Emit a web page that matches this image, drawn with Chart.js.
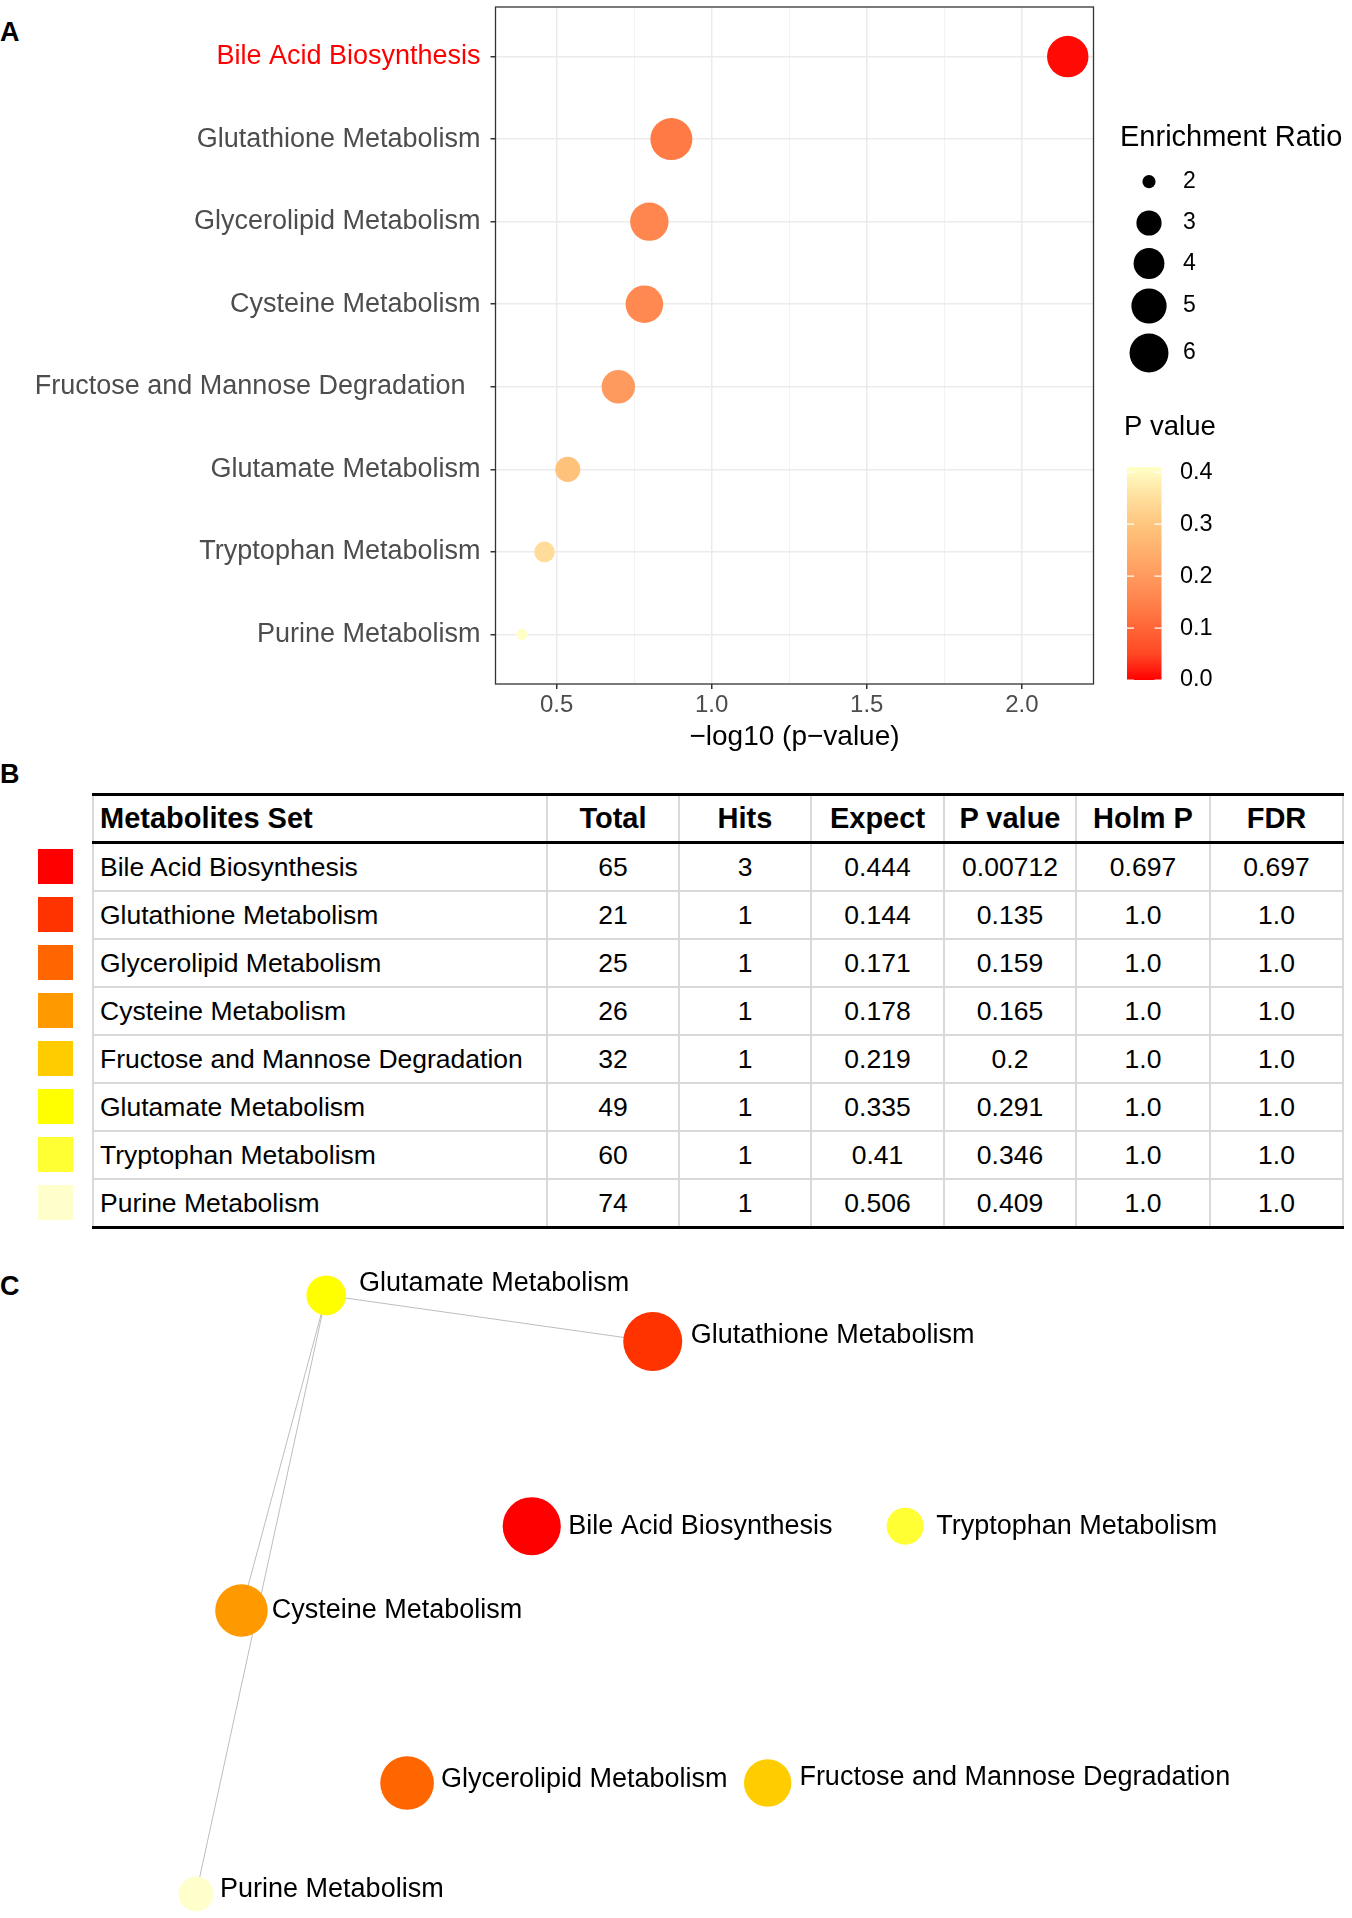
<!DOCTYPE html>
<html>
<head>
<meta charset="utf-8">
<title>Metabolite set enrichment</title>
<script src="https://cdn.jsdelivr.net/npm/chart.js@4.4.1/dist/chart.umd.min.js"></script>
<style>
  body { margin: 0; background: #fff; font-family: "Liberation Sans", Arial, sans-serif; }
  #page { position: relative; width: 1352px; height: 1918px; overflow: hidden; background: #fff; }
  .panel-tag { position: absolute; left: 0; font-weight: bold; font-size: 27px; line-height: 27px; color: #000; }
  #dotplot { position: absolute; left: 0; top: 0; }
  #network { position: absolute; left: 0; top: 1250px; }
  .swatch { position: absolute; left: 38px; width: 35px; height: 35px; }
  #tblB { position: absolute; left: 92px; top: 793px; width: 1250px; border-collapse: collapse; table-layout: fixed; color: #000; }
  #tblB th, #tblB td { height: 46px; padding: 0 6px; text-align: center; border: 2px solid #D9D9D9; font-size: 26.5px; white-space: nowrap; overflow: hidden; }
  #tblB th { font-weight: bold; font-size: 29px; height: 45px; border-top: 3px solid #000; border-bottom: 3px solid #000; }
  #tblB tr:last-child td { border-bottom: 3px solid #000; }
  #tblB th:first-child, #tblB td:first-child { text-align: left; }
</style>
</head>
<body>
<div id="page">
  <div class="panel-tag" style="top:19px">A</div>
  <div class="panel-tag" style="top:761px">B</div>
  <div class="panel-tag" style="top:1273px">C</div>
  <canvas id="dotplot" width="1352" height="760"></canvas>
  <div id="swatches"></div>
  <table id="tblB"><thead></thead><tbody></tbody></table>
  <canvas id="network" width="1352" height="668"></canvas>
</div>
<script>
// ---------- data ----------
const pathways = ['Bile Acid Biosynthesis', 'Glutathione Metabolism', 'Glycerolipid Metabolism',
  'Cysteine Metabolism', 'Fructose and Mannose Degradation', 'Glutamate Metabolism',
  'Tryptophan Metabolism', 'Purine Metabolism'];
const totals = [65, 21, 25, 26, 32, 49, 60, 74];
const hits = [3, 1, 1, 1, 1, 1, 1, 1];
const expected = ['0.444', '0.144', '0.171', '0.178', '0.219', '0.335', '0.41', '0.506'];
const pValues = ['0.00712', '0.135', '0.159', '0.165', '0.2', '0.291', '0.346', '0.409'];
const holmP = ['0.697', '1.0', '1.0', '1.0', '1.0', '1.0', '1.0', '1.0'];
const fdr = ['0.697', '1.0', '1.0', '1.0', '1.0', '1.0', '1.0', '1.0'];

// panel A: -log10(p) on x, enrichment ratio as size
const negLogP = [2.148, 0.870, 0.799, 0.783, 0.699, 0.536, 0.461, 0.388];
const enrichment = [6.76, 6.94, 5.85, 5.62, 4.57, 2.99, 2.44, 1.98];
const xMajorTicks = [0.5, 1.0, 1.5, 2.0];
const xMinorTicks = [0.75, 1.25, 1.75];
const sizeBreaks = [2, 3, 4, 5, 6];
const pBreaks = [0.0, 0.1, 0.2, 0.3, 0.4];

// panel C: network layout (layout units 0-100) and edges between pathways
const netX = [39.33, 48.28, 30.11, 17.86, 56.78, 24.13, 66.95, 14.50];
const netY = [41.35, 13.71, 79.79, 53.97, 79.79, 6.78, 41.35, 96.41];
const edges = [[5, 1], [5, 3], [5, 7]];

// ---------- styles ----------
const FONT = '"Liberation Sans", Arial, sans-serif';
Chart.defaults.font.family = FONT;
const pathwayPalette = ['#FF0000', '#FF3300', '#FF6600', '#FF9900', '#FFCC00', '#FFFF00', '#FFFF33', '#FFFFCC'];
const pStops = [[0, [255, 0, 0]], [0.05, [255, 72, 36]], [0.135, [255, 122, 69]], [0.2, [255, 154, 94]],
  [0.291, [255, 194, 122]], [0.346, [255, 220, 154]], [0.409, [255, 255, 198]]];
const pNum = pValues.map(Number);

function pColor(p) {
  for (let i = 1; i < pStops.length; i++) {
    if (p <= pStops[i][0] || i === pStops.length - 1) {
      const [p0, c0] = pStops[i - 1], [p1, c1] = pStops[i];
      const t = Math.max(0, Math.min(1, (p - p0) / (p1 - p0)));
      const c = c0.map((v, k) => Math.round(v + (c1[k] - v) * t));
      return 'rgb(' + c.join(',') + ')';
    }
  }
}
// ggplot-like area scale for the dots
const erMin = Math.min(...enrichment), erMax = Math.max(...enrichment);
function dotRadius(er) {
  const t = Math.max(0, (er - erMin) / (erMax - erMin));
  return 5.6 + 15.4 * Math.sqrt(t);
}
// node size in the network
function nodeRadius(er) { return 12.57 + 2.44 * er; }

// ---------- panel A ----------
const panelFrame = {
  id: 'panelFrame',
  afterDraw(chart) {
    const { ctx, chartArea: a } = chart;
    ctx.save();
    ctx.strokeStyle = '#333333';
    ctx.lineWidth = 1.3;
    ctx.strokeRect(a.left, a.top, a.right - a.left, a.bottom - a.top);
    ctx.restore();
  }
};

const dotLegends = {
  id: 'dotLegends',
  afterDraw(chart) {
    const ctx = chart.ctx;
    ctx.save();
    ctx.fillStyle = '#000';
    ctx.textBaseline = 'middle';
    ctx.textAlign = 'left';
    ctx.font = '29px ' + FONT;
    ctx.fillText('Enrichment Ratio', 1120, 138);
    const keyY = [181.7, 223, 263.5, 306, 353];
    ctx.font = '23px ' + FONT;
    sizeBreaks.forEach((v, i) => {
      ctx.beginPath();
      ctx.arc(1149, keyY[i], dotRadius(v), 0, Math.PI * 2);
      ctx.fill();
      ctx.fillText(String(v), 1183, keyY[i]);
    });

    // colour bar
    ctx.font = '27.5px ' + FONT;
    ctx.fillText('P value', 1124, 427);
    const barL = 1127, barW = 34.5, y0 = 680, pxPerUnit = 519.5;
    const pTop = Math.max(...pNum);
    const yTop = y0 - pTop * pxPerUnit;
    for (let y = Math.floor(yTop); y < y0; y++) {
      ctx.fillStyle = pColor((y0 - y - 0.5) / pxPerUnit);
      ctx.fillRect(barL, y, barW, 1);
    }
    ctx.strokeStyle = '#fff';
    ctx.lineWidth = 1.2;
    ctx.font = '23.5px ' + FONT;
    pBreaks.forEach(p => {
      const y = y0 - p * pxPerUnit;
      ctx.beginPath();
      ctx.moveTo(barL, y); ctx.lineTo(barL + 7, y);
      ctx.moveTo(barL + barW - 7, y); ctx.lineTo(barL + barW, y);
      ctx.stroke();
      ctx.fillStyle = '#000';
      ctx.fillText(p.toFixed(1), 1180, y);
    });
    ctx.restore();
  }
};

const yLabelText = pathways.map((n, i) => i === 4 ? n + '\u00a0\u00a0' : n);
const isMajor = v => xMajorTicks.some(m => Math.abs(m - v) < 1e-9);

new Chart(document.getElementById('dotplot'), {
  type: 'bubble',
  data: {
    datasets: [{
      data: pathways.map((n, i) => ({ x: negLogP[i], y: i, r: dotRadius(enrichment[i]) })),
      backgroundColor: pNum.map(pColor),
      borderWidth: 0,
      hoverBorderWidth: 0,
      clip: false
    }]
  },
  options: {
    responsive: false,
    animation: false,
    events: [],
    layout: { autoPadding: false, padding: { left: 0, top: 7, right: 1352 - 1093.5, bottom: 0 } },
    plugins: { legend: { display: false }, tooltip: { enabled: false } },
    scales: {
      x: {
        type: 'linear', min: 0.303, max: 2.231,
        afterBuildTicks: s => { s.ticks = [...xMajorTicks, ...xMinorTicks].sort((a, b) => a - b).map(v => ({ value: v })); },
        afterFit: s => { s.height = 76; s.paddingLeft = 0; s.paddingRight = 0; },
        border: { display: false },
        grid: {
          color: c => isMajor(c.tick.value) ? '#EBEBEB' : '#F2F2F2',
          lineWidth: c => isMajor(c.tick.value) ? 1.5 : 1,
          tickLength: 5,
          tickColor: c => isMajor(c.tick.value) ? '#333333' : 'rgba(0,0,0,0)'
        },
        ticks: {
          color: '#4D4D4D', font: { size: 24 }, padding: 2, maxRotation: 0, autoSkip: false,
          callback: v => isMajor(v) ? v.toFixed(1) : ''
        },
        title: { display: true, text: '\u2212log10 (p\u2212value)', color: '#000', font: { size: 28 }, padding: { top: 0, bottom: 6 } }
      },
      y: {
        type: 'linear', reverse: true, min: -0.6, max: pathways.length - 0.4,
        afterBuildTicks: s => { s.ticks = pathways.map((n, i) => ({ value: i })); },
        afterFit: s => { s.width = 495.5; s.paddingTop = 0; s.paddingBottom = 0; },
        border: { display: false },
        grid: { color: '#EBEBEB', lineWidth: 1.5, tickLength: 5, tickColor: '#333333' },
        ticks: {
          color: c => c.tick && c.tick.value === 0 ? '#FF0000' : '#4D4D4D',
          font: { size: 27 }, padding: 10, autoSkip: false,
          callback: v => yLabelText[v]
        }
      }
    }
  },
  plugins: [panelFrame, dotLegends]
});

// ---------- panel B ----------
const headers = ['Metabolites Set', 'Total', 'Hits', 'Expect', 'P value', 'Holm P', 'FDR'];
const colWidths = [454, 132, 132, 133, 132, 134, 133];
const tbl = document.getElementById('tblB');
const colgroup = document.createElement('colgroup');
colWidths.forEach(w => { const c = document.createElement('col'); c.style.width = w + 'px'; colgroup.appendChild(c); });
tbl.insertBefore(colgroup, tbl.firstChild);
const headRow = document.createElement('tr');
headers.forEach(h => { const th = document.createElement('th'); th.textContent = h; headRow.appendChild(th); });
tbl.tHead.appendChild(headRow);
pathways.forEach((name, i) => {
  const tr = document.createElement('tr');
  [name, totals[i], hits[i], expected[i], pValues[i], holmP[i], fdr[i]].forEach(v => {
    const td = document.createElement('td'); td.textContent = v; tr.appendChild(td);
  });
  tbl.tBodies[0].appendChild(tr);
  const sw = document.createElement('div');
  sw.className = 'swatch';
  sw.style.top = (842 + 48 * i + 6.5) + 'px';
  sw.style.background = pathwayPalette[i];
  document.getElementById('swatches').appendChild(sw);
});

// ---------- panel C ----------
const labelGap = [7.5, 8.5, 7, 4, 8, 13, 12.5, 6.6];
const labelDy = [0, -5.6, -3, 0, -5, -12, 0, -4];

const nodeLabels = {
  id: 'nodeLabels',
  afterDatasetsDraw(chart) {
    const ctx = chart.ctx;
    const meta = chart.getDatasetMeta(chart.data.datasets.length - 1);
    ctx.save();
    ctx.fillStyle = '#000';
    ctx.font = '27px ' + FONT;
    ctx.textBaseline = 'middle';
    ctx.textAlign = 'left';
    meta.data.forEach((el, i) => {
      const r = nodeRadius(enrichment[i]);
      ctx.fillText(pathways[i], el.x + r + labelGap[i], el.y + labelDy[i]);
    });
    ctx.restore();
  }
};

const edgeSets = edges.map(([a, b]) => ({
  type: 'line',
  data: [{ x: netX[a], y: netY[a] }, { x: netX[b], y: netY[b] }],
  borderColor: '#BDBDBD',
  borderWidth: 1,
  pointRadius: 0,
  fill: false,
  order: 2
}));

new Chart(document.getElementById('network'), {
  type: 'bubble',
  data: {
    datasets: [...edgeSets, {
      type: 'bubble',
      data: pathways.map((n, i) => ({ x: netX[i], y: netY[i], r: nodeRadius(enrichment[i]) })),
      backgroundColor: pathwayPalette,
      borderWidth: 0,
      hoverBorderWidth: 0,
      clip: false,
      order: 1
    }]
  },
  options: {
    responsive: false,
    animation: false,
    events: [],
    layout: { autoPadding: false, padding: 0 },
    plugins: { legend: { display: false }, tooltip: { enabled: false } },
    scales: {
      x: { type: 'linear', display: false, min: 0, max: 100 },
      y: { type: 'linear', display: false, min: 0, max: 100, reverse: true }
    }
  },
  plugins: [nodeLabels]
});
</script>
</body>
</html>
